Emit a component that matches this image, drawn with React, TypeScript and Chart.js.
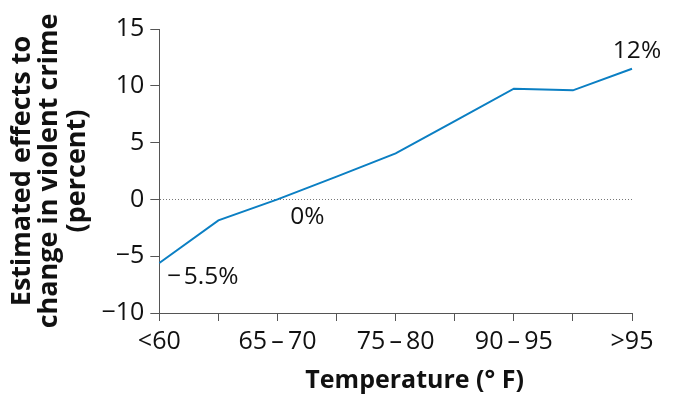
import { Chart, registerables } from "chart.js"
import React, { useEffect, useRef } from "react"

Chart.register(...registerables)

const temperatures = ["<60", "60\u2009–\u200965", "65\u2009–\u200970", "70\u2009–\u200975", "75\u2009–\u200980", "80\u2009–\u200985", "90\u2009–\u200995", "95\u2009–\u2009100", ">95"]
const crimeEffect = [-5.6, -1.85, 0, 2.0, 4.05, 6.9, 9.75, 9.6, 11.5]
const labeledPoints = [0, 2, 8]
const labeledTexts = ["−\u200a5.5%", "0%", "12%"]
const yTicks = [-10, -5, 0, 5, 10, 15]

const FONT = "'Open Sans', Lato, sans-serif"

const pointLabels = {
  id: "pointLabels",
  afterDatasetsDraw(chart: Chart) {
    const { ctx, scales } = chart
    const x = scales.x
    const y = scales.y
    ctx.save()
    ctx.fillStyle = "#111"
    ctx.font = `24.5px ${FONT}`
    ctx.textBaseline = "middle"
    labeledPoints.forEach((idx, i) => {
      const px = x.getPixelForValue(idx)
      const py = y.getPixelForValue(crimeEffect[idx])
      if (idx === 0) {
        ctx.textAlign = "left"
        ctx.fillText(labeledTexts[i], px + 8, py + 14)
      } else if (idx === crimeEffect.length - 1) {
        ctx.textAlign = "center"
        ctx.fillText(labeledTexts[i], px + 5, py - 18)
      } else {
        ctx.textAlign = "center"
        ctx.fillText(labeledTexts[i], px + 30, py + 18)
      }
    })
    // x axis title, sits a little right of the plot centre in the original
    const area = chart.chartArea
    ctx.font = `bold 25px ${FONT}`
    ctx.textAlign = "center"
    ctx.fillText("Temperature (° F)", (area.left + area.right) / 2 + 19, 381)
    ctx.restore()
  },
}

const App: React.FC = () => {
  const canvasRef = useRef<HTMLCanvasElement>(null)
  const chartRef = useRef<Chart | null>(null)

  useEffect(() => {
    const ctx = canvasRef.current?.getContext("2d")
    if (!ctx) return

    chartRef.current = new Chart(ctx, {
      type: "line",
      data: {
        labels: temperatures,
        datasets: [
          {
            data: crimeEffect,
            borderColor: "#0b7fc3",
            borderWidth: 2,
            pointRadius: 0,
            tension: 0,
          },
        ],
      },
      options: {
        animation: false,
        responsive: true,
        maintainAspectRatio: false,
        layout: { padding: { left: 8, right: 48, top: 29, bottom: 47 } },
        plugins: {
          legend: { display: false },
          tooltip: { enabled: false },
        },
        scales: {
          x: {
            offset: false,
            grid: { color: "transparent", tickColor: "#555", tickLength: 8 },
            border: { color: "#555", width: 1 },
            ticks: {
              autoSkip: false,
              maxRotation: 0,
              color: "#111",
              padding: 6,
              font: { family: FONT, size: 25 },
              callback: (_v, i) => (i % 2 === 0 ? temperatures[i] : ""),
            },
          },
          y: {
            min: -10,
            max: 15,
            afterBuildTicks: (axis) => {
              axis.ticks = yTicks.map((v) => ({ value: v }))
            },
            grid: {
              color: (c) => (c.tick && c.tick.value === 0 ? "#777" : "transparent"),
              tickColor: "#555",
              tickLength: 9,
            },
            border: { color: "#555", width: 1, dash: [1, 2] },
            ticks: {
              color: "#111",
              padding: 6,
              font: { family: FONT, size: 25 },
              callback: (v) => (Number(v) < 0 ? "−" + Math.abs(Number(v)) : String(v)),
            },
            title: {
              display: true,
              text: ["Estimated effects to", "change in violent crime", "(percent)"],
              color: "#111",
              font: { family: FONT, size: 27, weight: "bold", lineHeight: 1.03 },
              padding: { top: 0, bottom: 4 },
            },
          },
        },
      },
      plugins: [pointLabels],
    })

    return () => {
      chartRef.current?.destroy()
    }
  }, [])

  return (
    <div style={{ position: "fixed", left: 0, top: 0, width: 680, height: 410, background: "#fff" }}>
      <canvas ref={canvasRef} />
    </div>
  )
}

export default App
